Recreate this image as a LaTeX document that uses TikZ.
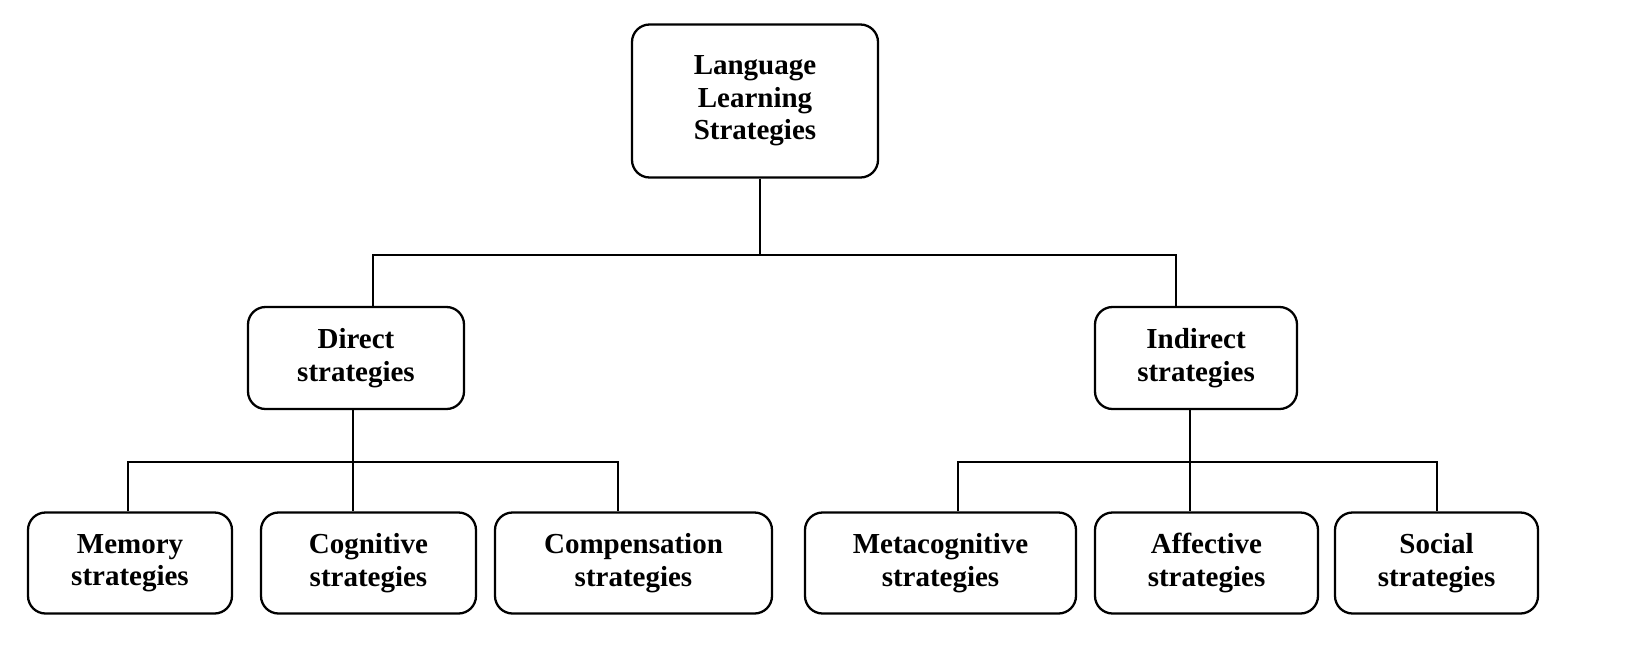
\documentclass[tikz,border=0pt]{standalone}
\usepackage{fontspec}
\setmainfont{Liberation Serif}
\begin{document}
\begin{tikzpicture}[x=0.02cm,y=-0.02cm,
 box/.style={draw,line width=1.3pt,rounded corners=10pt,align=center,font=\bfseries\fontsize{16.5}{18.5}\selectfont,inner sep=0pt},
 ln/.style={line width=1.3pt}]
\useasboundingbox (0,0) rectangle (1626,660);
\node[box,minimum width=246*0.02cm,minimum height=153*0.02cm] (top) at (755,101) {Language\\Learning\\Strategies};
\node[box,minimum width=216*0.02cm,minimum height=102*0.02cm] (dir) at (356,358) {Direct\\strategies};
\node[box,minimum width=202*0.02cm,minimum height=102*0.02cm] (ind) at (1196,358) {Indirect\\strategies};
\foreach \n/\a/\b/\t in {mem/28/232/Memory,cog/261/476/Cognitive,com/495/772/Compensation,met/805/1076/Metacognitive,aff/1095/1318/Affective,soc/1335/1538/Social}
  \node[box,minimum width={(\b-\a)*0.02cm},minimum height=101*0.02cm] (\n) at ({(\a+\b)/2},563) {\t\\strategies};
\coordinate (j0) at (760,255);
\coordinate (j1) at (353,462);
\coordinate (j2) at (1190,462);
\draw[ln] (top.south -| j0) -- (j0);
\draw[ln] (dir.north -| 373,0) -- (373,255) -- (1176,255) -- (ind.north -| 1176,0);
\draw[ln] (dir.south -| j1) -- (j1);
\draw[ln] (mem.north -| 128,0) -- (128,462) -- (618,462) -- (com.north -| 618,0);
\draw[ln] (j1) -- (cog.north -| j1);
\draw[ln] (ind.south -| j2) -- (j2);
\draw[ln] (met.north -| 958,0) -- (958,462) -- (1437,462) -- (soc.north -| 1437,0);
\draw[ln] (j2) -- (aff.north -| j2);
\end{tikzpicture}
\end{document}
